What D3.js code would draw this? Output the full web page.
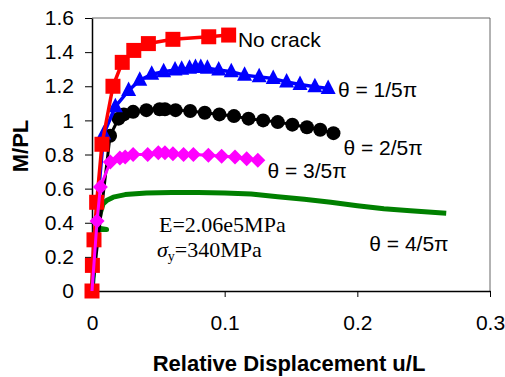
<!DOCTYPE html>
<html>
<head>
<meta charset="utf-8">
<script src="https://cdn.jsdelivr.net/npm/d3@7"></script>
<style>
  body { margin: 0; background: #fff; }
  text { font-family: 'Liberation Sans', Arial, sans-serif; }
</style>
</head>
<body>
<svg id="chart" width="505" height="377"></svg>
<script>
// values (u/L, M/PL)
const noCrackX = [0, 0.0003, 0.0015, 0.0035, 0.0075, 0.0158, 0.0228, 0.0315, 0.0425, 0.061, 0.088, 0.103];
const noCrackY = [0, 0.15, 0.30, 0.52, 0.86, 1.20, 1.34, 1.41, 1.45, 1.475, 1.49, 1.50];

const theta1X = [0, 0.0037, 0.0088, 0.0176, 0.0276, 0.036, 0.045, 0.054, 0.0626, 0.0676, 0.0735, 0.078, 0.082, 0.087, 0.0955, 0.105, 0.115, 0.126, 0.1366, 0.1467, 0.1568, 0.168, 0.178];
const theta1Y = [0, 0.47, 0.92, 1.08, 1.175, 1.235, 1.27, 1.285, 1.295, 1.30, 1.305, 1.31, 1.31, 1.305, 1.295, 1.285, 1.265, 1.255, 1.245, 1.225, 1.21, 1.197, 1.187];

const theta2X = [0, 0.0136, 0.020, 0.024, 0.031, 0.041, 0.051, 0.055, 0.063, 0.074, 0.085, 0.096, 0.107, 0.118, 0.129, 0.140, 0.151, 0.162, 0.172, 0.182];
const theta2Y = [0, 0.91, 1.01, 1.035, 1.05, 1.06, 1.065, 1.065, 1.06, 1.055, 1.045, 1.035, 1.025, 1.01, 1.0, 0.99, 0.975, 0.96, 0.945, 0.925];

const theta3X = [0, 0.0038, 0.0063, 0.0138, 0.021, 0.025, 0.031, 0.042, 0.050, 0.055, 0.061, 0.069, 0.0764, 0.0877, 0.0977, 0.1078, 0.1166, 0.125];
const theta3Y = [0, 0.41, 0.61, 0.756, 0.78, 0.786, 0.80, 0.80, 0.81, 0.81, 0.805, 0.80, 0.80, 0.795, 0.79, 0.785, 0.775, 0.766];

const theta4X = [0, 0.002, 0.0025, 0.011, 0.004, 0.006, 0.0083, 0.011, 0.016, 0.025, 0.041, 0.06, 0.08, 0.10, 0.12, 0.14, 0.16, 0.18, 0.20, 0.22, 0.24, 0.267];
const theta4Y = [0, 0.18, 0.36, 0.36, 0.37, 0.45, 0.51, 0.53, 0.55, 0.565, 0.575, 0.578, 0.578, 0.575, 0.568, 0.553, 0.538, 0.52, 0.50, 0.482, 0.47, 0.455];

const xTicks = [0, 0.1, 0.2, 0.3];
const yTicks = [0, 0.2, 0.4, 0.6, 0.8, 1, 1.2, 1.4, 1.6];

const margin = { top: 18, right: 15, bottom: 86, left: 92 };
const width = 505, height = 377;

const svg = d3.select('#chart');

const x = d3.scaleLinear().domain([0, 0.3]).range([margin.left, width - margin.right]);
const y = d3.scaleLinear().domain([0, 1.6]).range([height - margin.bottom, margin.top]);

const fmt = d3.format('.1~f');

// frame (top + right)
svg.append('path')
  .attr('d', `M${x(0)},${y(1.6)}H${x(0.3)}V${y(0)}`)
  .attr('fill', 'none')
  .attr('stroke', '#666')
  .attr('stroke-width', 1);

svg.append('g')
  .attr('transform', `translate(0,${y(0)})`)
  .call(d3.axisBottom(x).tickValues(xTicks).tickFormat(fmt).tickSize(6).tickSizeOuter(0).tickPadding(18));

svg.append('g')
  .attr('transform', `translate(${x(0)},0)`)
  .call(d3.axisLeft(y).tickValues(yTicks).tickFormat(fmt).tickSize(7).tickSizeOuter(0).tickPadding(11));

svg.selectAll('.domain').attr('stroke', '#000').attr('stroke-width', 1.5);
svg.selectAll('.tick line').attr('stroke', '#000').attr('stroke-width', 1);
svg.selectAll('.tick text')
  .attr('fill', '#000')
  .style('font-family', "'Liberation Sans', Arial, sans-serif")
  .style('font-size', '21px');

// axis titles
svg.append('text')
  .attr('x', (x(0) + x(0.3)) / 2 - 2)
  .attr('y', 371)
  .attr('text-anchor', 'middle')
  .style('font-size', '22px')
  .style('font-weight', 'bold')
  .text('Relative Displacement u/L');

svg.append('text')
  .attr('transform', `translate(28,${y(0.85)}) rotate(-90)`)
  .attr('text-anchor', 'middle')
  .style('font-size', '22px')
  .style('font-weight', 'bold')
  .text('M/PL');

// series
const zip = (xs, ys) => xs.map((d, i) => [d, ys[i]]);
const line = d3.line().x(d => x(d[0])).y(d => y(d[1]));

const series = [
  { data: zip(theta4X, theta4Y), color: '#008000', width: 5, marker: null },
  { data: zip(theta2X, theta2Y), color: '#000000', width: 3, marker: 'circle' },
  { data: zip(theta1X, theta1Y), color: '#0000ff', width: 3.5, marker: 'triangle', skip: 2 },
  { data: zip(noCrackX, noCrackY), color: '#ff0000', width: 3.5, marker: 'square' },
  { data: zip(theta3X, theta3Y), color: '#ff00ff', width: 3, marker: 'diamond', skip: 1 }
];

const shapes = {
  circle: 'M7,0A7,7 0 1,1 -7,0A7,7 0 1,1 7,0Z',
  triangle: 'M0,-9L7.5,5.5L-7.5,5.5Z',
  square: 'M-7.5,-7.5H7.5V7.5H-7.5Z',
  diamond: 'M0,-7.5L7.5,0L0,7.5L-7.5,0Z'
};

series.forEach(s => {
  const g = svg.append('g');
  g.append('path')
    .datum(s.data)
    .attr('d', line)
    .attr('fill', 'none')
    .attr('stroke', s.color)
    .attr('stroke-width', s.width)
    .attr('stroke-linejoin', 'round');
  if (s.marker) {
    g.selectAll('.mk')
      .data(s.data.slice(s.skip || 0))
      .enter()
      .append('path')
      .attr('class', 'mk')
      .attr('d', shapes[s.marker])
      .attr('transform', d => `translate(${x(d[0])},${y(d[1])})`)
      .attr('fill', s.color);
  }
});

// annotations
const notes = [
  { text: 'No crack', u: 0.110, m: 1.43 },
  { text: 'θ = 1/5π', u: 0.1854, m: 1.137 },
  { text: 'θ = 2/5π', u: 0.1895, m: 0.797 },
  { text: 'θ = 3/5π', u: 0.1322, m: 0.661 },
  { text: 'θ = 4/5π', u: 0.209, m: 0.236 }
];
svg.selectAll('.note')
  .data(notes)
  .enter()
  .append('text')
  .attr('class', 'note')
  .attr('x', d => x(d.u))
  .attr('y', d => y(d.m))
  .style('font-size', '21px')
  .text(d => d.text);

svg.append('text')
  .attr('x', x(0.0505))
  .attr('y', y(0.3476))
  .style('font-family', "'Liberation Serif', 'Times New Roman', serif")
  .style('font-size', '22px')
  .text('E=2.06e5MPa');

const sig = svg.append('text')
  .attr('x', x(0.049))
  .attr('y', y(0.199))
  .style('font-family', "'Liberation Serif', 'Times New Roman', serif")
  .style('font-size', '22px');
sig.append('tspan').style('font-style', 'italic').text('σ');
sig.append('tspan').attr('dy', 4).style('font-size', '14px').text('y');
sig.append('tspan').attr('dy', -4).text('=340MPa');
</script>
</body>
</html>
